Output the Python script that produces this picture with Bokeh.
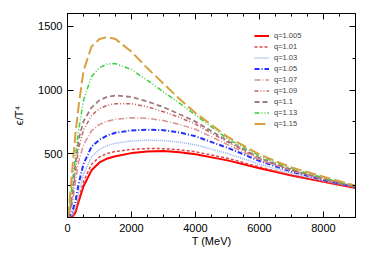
from bokeh.plotting import figure
from bokeh.models import Range1d, LinearAxis, FixedTicker, Legend, LegendItem
from bokeh.embed import file_html
from bokeh.resources import INLINE

T = [0, 50, 150, 250, 350, 500, 750, 1000, 1250, 1500, 2000, 2500, 3000,
     3500, 4000, 5000, 6000, 7000, 8000, 9000]

q1005 = [0, 0, 5, 40, 125, 245, 370, 432, 463, 481, 505, 518, 521, 512, 496, 448, 386, 329, 281, 232]
q1010 = [0, 0, 10, 52, 145, 282, 418, 475, 503, 518, 534, 541, 540, 531, 515, 465, 396, 333, 282, 234]
q1030 = [0, 2, 22, 85, 195, 340, 475, 535, 565, 582, 600, 606, 603, 591, 570, 502, 418, 347, 288, 237]
q1050 = [0, 5, 45, 130, 265, 420, 555, 610, 645, 665, 683, 689, 685, 667, 637, 547, 443, 360, 295, 240]
q1070 = [0, 10, 105, 285, 440, 570, 680, 730, 755, 770, 782, 778, 760, 730, 692, 572, 452, 367, 299, 242]
q1090 = [0, 15, 145, 365, 545, 685, 800, 855, 880, 893, 893, 868, 830, 785, 732, 592, 462, 371, 301, 243]
q1100 = [0, 20, 185, 425, 615, 755, 862, 920, 948, 957, 945, 910, 865, 810, 752, 602, 468, 375, 305, 245]
q1130 = [0, 45, 275, 485, 685, 920, 1105, 1175, 1205, 1207, 1160, 1075, 985, 897, 803, 618, 482, 385, 311, 246]
q1150 = [0, 80, 380, 660, 880, 1150, 1340, 1400, 1415, 1400, 1300, 1170, 1050, 930, 820, 632, 495, 392, 320, 250]

labels = ["q=1.005", "q=1.01", "q=1.03", "q=1.05", "q=1.07", "q=1.09", "q=1.1", "q=1.13", "q=1.15"]
series = [q1005, q1010, q1030, q1050, q1070, q1090, q1100, q1130, q1150]
colors = ["#ff0000", "#e04848", "#8fb0f0", "#2030ff", "#d89090", "#c86060", "#a07a80", "#40d040", "#d8a040"]
dashes = ["solid", "3 2", "1 1", "5 2 1 2", "6 2 1 2", "4 2 1 2 1 2", "5 3", "5 2 1 2 1 2", "11 4"]
widths = [2, 1.5, 1.5, 2, 1.5, 1.5, 1.8, 1.5, 2]

x_ticks = [0, 2000, 4000, 6000, 8000]
x_minor = [500, 1000, 1500, 2500, 3000, 3500, 4500, 5000, 5500, 6500, 7000, 7500, 8500]
y_ticks = [500, 1000, 1500]
y_minor = [250, 750, 1250]

FONT = "Liberation Sans"

p = figure(width=366, height=249, output_backend="svg", toolbar_location=None,
           x_range=Range1d(0, 9000), y_range=Range1d(0, 1600),
           min_border_left=67, min_border_right=11, min_border_top=13, min_border_bottom=32)
p.grid.visible = False
p.outline_line_color = "black"
p.outline_line_width = 1
p.background_fill_color = "white"
p.border_fill_color = "white"

xt = FixedTicker(ticks=x_ticks, minor_ticks=x_minor)
yt = FixedTicker(ticks=y_ticks, minor_ticks=y_minor)

for ax, tk in ((p.xaxis[0], xt), (p.yaxis[0], yt)):
    ax.ticker = tk
    ax.major_tick_in = 6
    ax.major_tick_out = 0
    ax.minor_tick_in = 3
    ax.minor_tick_out = 0
    ax.axis_line_color = "black"
    ax.major_tick_line_color = "black"
    ax.minor_tick_line_color = "black"
    ax.major_label_text_font = FONT
    ax.major_label_text_font_size = "11px"
    ax.major_label_text_color = "black"
    ax.axis_label_text_font = FONT
    ax.axis_label_text_font_size = "11px"
    ax.axis_label_text_font_style = "normal"
    ax.axis_label_text_color = "black"

p.xaxis[0].axis_label = "T (MeV)"
p.xaxis[0].major_label_standoff = 6
p.xaxis[0].axis_label_standoff = 0
p.yaxis[0].axis_label = "ϵ/T⁴"
p.yaxis[0].major_label_standoff = 5
p.yaxis[0].axis_label_standoff = 10

top = LinearAxis(ticker=FixedTicker(ticks=x_ticks, minor_ticks=x_minor),
                 major_label_overrides={t: "" for t in x_ticks})
right = LinearAxis(ticker=FixedTicker(ticks=y_ticks, minor_ticks=y_minor),
                   major_label_overrides={t: "" for t in y_ticks})
for ax in (top, right):
    ax.major_tick_in = 6
    ax.major_tick_out = 0
    ax.minor_tick_in = 3
    ax.minor_tick_out = 0
    ax.major_label_standoff = 0
    ax.axis_line_color = "black"
p.add_layout(top, "above")
p.add_layout(right, "right")

items = []
for lab, ys, c, d, w in zip(labels, series, colors, dashes, widths):
    r = p.line(T, ys, line_color=c, line_dash=d, line_width=w)
    items.append(LegendItem(label=lab, renderers=[r]))

legend = Legend(items=items, location=(187, 89), padding=0, margin=0,
                glyph_width=15, glyph_height=9, label_height=9, spacing=2,
                label_standoff=5, label_text_font=FONT, label_text_font_size="7.5px",
                background_fill_alpha=0, border_line_alpha=0)
p.add_layout(legend, "center")

open("out.html", "w").write(file_html(p, INLINE))
